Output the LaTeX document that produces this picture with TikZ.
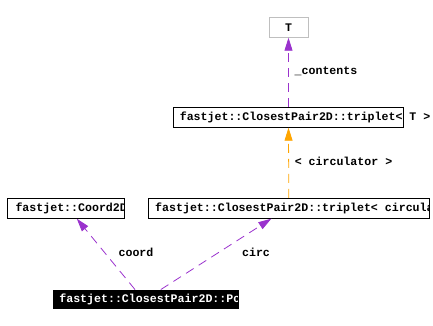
\documentclass[tikz,border=0pt]{standalone}
\usepackage{fontspec}
\setmonofont{Liberation Mono}
\usetikzlibrary{arrows.meta}
\definecolor{edgepurple}{HTML}{9A32CD}
\definecolor{edgeorange}{HTML}{FFA500}
\definecolor{boxgray}{HTML}{BFBFBF}
\begin{document}
\begin{tikzpicture}[x=1pt,y=-1pt,
  lbl/.style={font=\ttfamily\bfseries\fontsize{11.6}{12}\selectfont, inner sep=0pt},
  cls/.style={draw, line width=0.8pt, inner sep=0pt, minimum height=20pt},
  rel/.style={line width=0.8pt, dash pattern=on 9pt off 6pt, -{Triangle[length=13pt,width=8pt]}}
]
\useasboundingbox (0,0) rectangle (433,326);
% nodes
\node[cls, draw=boxgray, minimum width=39pt] (tnode) at (288.5,27.3) {};
\node[lbl] (ttext) at (tnode.center) {T};
\node[cls, minimum width=230pt] (tripT) at (288.5,117.3) {};
\node[lbl, anchor=west] (tripTtext) at ([xshift=6.5pt]tripT.west) {fastjet::ClosestPair2D::triplet< T >};
\node[cls, minimum width=281pt, path picture={\node[lbl,anchor=west] at ([xshift=6.5pt]path picture bounding box.west) {fastjet::ClosestPair2D::triplet< circulator >};}] (circbox) at (288.8,208.3) {};
\node[cls, minimum width=117pt, path picture={\node[lbl,anchor=west] at ([xshift=5pt]path picture bounding box.west) {fastjet::Coord2D};}] (coordbox) at (65.8,208.3) {};
\node[cls, fill=black, minimum width=185.7pt, minimum height=18.7pt, path picture={\node[lbl,anchor=west,text=white] at ([xshift=6pt]path picture bounding box.west) {fastjet::ClosestPair2D::Point};}] (point) at (145.8,299.3) {};
% edges
\draw[rel, edgepurple] (tripT.north) -- (tnode.south);
\draw[rel, edgeorange] (circbox.north) -- (tripT.south);
\draw[rel, edgepurple] ([xshift=-10.8pt]point.north) -- ([xshift=11pt]coordbox.south);
\draw[rel, edgepurple] ([xshift=15pt]point.north) -- ([xshift=-17.5pt]circbox.south);
% labels
\node[lbl] (lcontents) at (326,71) {\_contents};
\node[lbl] (lcirculator) at (343.5,161) {< circulator >};
\node[lbl] (lcoord) at (136,252) {coord};
\node[lbl] (lcirc) at (256,252) {circ};
\end{tikzpicture}
\end{document}
